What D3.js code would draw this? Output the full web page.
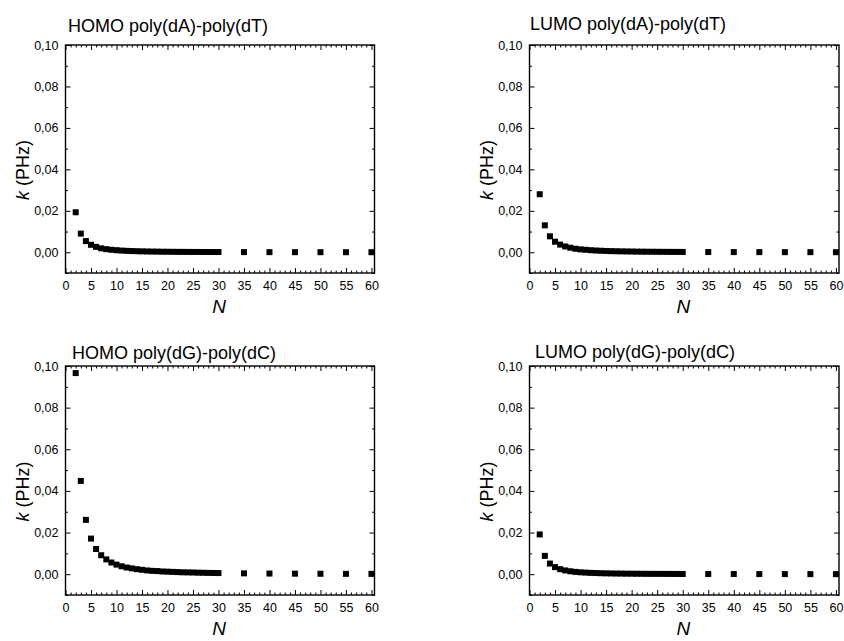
<!DOCTYPE html>
<html>
<head>
<meta charset="utf-8">
<script src="https://cdn.jsdelivr.net/npm/d3@7"></script>
<style>
  html, body { margin: 0; padding: 0; background: #fff; }
  svg { display: block; font-family: "Liberation Sans", Arial, sans-serif; }
</style>
</head>
<body>
<svg id="chart" width="844" height="641"></svg>
<script>
// ---------- DATA ----------
const panelTitles = [
  "HOMO poly(dA)-poly(dT)",
  "LUMO poly(dA)-poly(dT)",
  "HOMO poly(dG)-poly(dC)",
  "LUMO poly(dG)-poly(dC)"
];
const nValues = [2,3,4,5,6,7,8,9,10,11,12,13,14,15,16,17,18,19,20,21,22,23,24,25,26,27,28,29,30,35,40,45,50,55,60];

const homoAT = [0.0193,0.0090,0.0054,0.0036,0.0026,0.0019,0.0015,0.0012,0.0010,0.00082,0.00069,0.00059,0.00051,0.00044,0.00039,0.00034,0.00031,0.00027,0.00025,0.00022,0.00020,0.00019,0.00017,0.00016,0.00015,0.00014,0.00013,0.00012,0.00011,
                0.00008,0.00006,0.00005,0.00004,0.00003,0.00003];
const lumoAT = [0.0280,0.0130,0.0077,0.0051,0.0037,0.0028,0.0022,0.0017,0.0014,0.0012,0.0010,0.00085,0.00073,0.00064,0.00056,0.00050,0.00044,0.00040,0.00036,0.00032,0.00029,0.00027,0.00025,0.00023,0.00021,0.00019,0.00018,0.00017,0.00016,
                0.00011,0.00009,0.00007,0.00006,0.00005,0.00004];
const homoGC = [0.0966,0.0448,0.0261,0.0171,0.0121,0.0091,0.0071,0.0056,0.0046,0.0038,0.0032,0.0028,0.0024,0.0021,0.0018,0.0016,0.0015,0.0013,0.0012,0.0011,0.0010,0.0009,0.00085,0.0008,0.00072,0.00067,0.00062,0.00058,0.00054,
                0.0004,0.0003,0.00024,0.0002,0.00016,0.00014];
const lumoGC = [0.0191,0.0088,0.0051,0.0034,0.0024,0.0018,0.0014,0.0011,0.0009,0.00075,0.00063,0.00054,0.00046,0.00040,0.00035,0.00031,0.00028,0.00025,0.00023,0.00021,0.00019,0.00017,0.00016,0.00015,0.00014,0.00013,0.00012,0.00011,0.0001,
                0.00007,0.00006,0.00004,0.00004,0.00003,0.00003];

const xTickLabels = [0,5,10,15,20,25,30,35,40,45,50,55,60];
const yTickLabels = [0.00,0.02,0.04,0.06,0.08,0.10];
const xDomain = [0, 60.6];
const yDomain = [-0.01, 0.10];

const seriesList = [homoAT, lumoAT, homoGC, lumoGC];

// ---------- LAYOUT ----------
const frames = [
  {l: 65.5, r: 374.5, t: 45, b: 273, tx: 68, ty: 32},
  {l: 529.5, r: 839, t: 45, b: 273, tx: 530, ty: 30},
  {l: 65.5, r: 374.5, t: 366, b: 595, tx: 72, ty: 359},
  {l: 529.5, r: 839, t: 366, b: 595, tx: 535, ty: 358}
];

const svg = d3.select("#chart");
const fmt = d => d3.format(".2f")(d).replace(".", ",");

frames.forEach((f, i) => {
  const x = d3.scaleLinear().domain(xDomain).range([f.l, f.r]);
  const y = d3.scaleLinear().domain(yDomain).range([f.b, f.t]);
  const g = svg.append("g");

  const xMinor = d3.range(0, 61, 1).filter(v => v % 5 !== 0);
  const yMinor = [-0.01, 0.01, 0.03, 0.05, 0.07, 0.09];

  // bottom axis (inward ticks)
  g.append("g").attr("transform", `translate(0,${f.b})`)
    .call(d3.axisBottom(x).tickValues(xTickLabels).tickSize(-5).tickPadding(8).tickFormat(d3.format("d")));
  g.append("g").attr("transform", `translate(0,${f.b})`)
    .call(d3.axisBottom(x).tickValues(xMinor).tickSize(-2.5).tickFormat(""))
    .call(s => s.select(".domain").remove());
  // top axis
  g.append("g").attr("transform", `translate(0,${f.t})`)
    .call(d3.axisTop(x).tickValues(xTickLabels).tickSize(-5).tickFormat(""))
    .call(s => s.select(".domain").remove());
  g.append("g").attr("transform", `translate(0,${f.t})`)
    .call(d3.axisTop(x).tickValues(xMinor).tickSize(-2.5).tickFormat(""))
    .call(s => s.select(".domain").remove());
  // left axis
  g.append("g").attr("transform", `translate(${f.l},0)`)
    .call(d3.axisLeft(y).tickValues(yTickLabels).tickSize(-5).tickPadding(7).tickFormat(fmt));
  g.append("g").attr("transform", `translate(${f.l},0)`)
    .call(d3.axisLeft(y).tickValues(yMinor).tickSize(-2.5).tickFormat(""))
    .call(s => s.select(".domain").remove());
  // right axis
  g.append("g").attr("transform", `translate(${f.r},0)`)
    .call(d3.axisRight(y).tickValues(yTickLabels).tickSize(-5).tickFormat(""))
    .call(s => s.select(".domain").remove());
  g.append("g").attr("transform", `translate(${f.r},0)`)
    .call(d3.axisRight(y).tickValues(yMinor).tickSize(-2.5).tickFormat(""))
    .call(s => s.select(".domain").remove());

  g.selectAll(".domain").remove();
  g.selectAll(".tick line").attr("stroke", "#000").attr("stroke-width", 1);
  g.selectAll(".tick text").attr("font-size", 12.5).attr("fill", "#000")
    .attr("font-family", "'Liberation Sans', Arial, sans-serif");

  // frame
  g.append("rect").attr("x", f.l).attr("y", f.t)
    .attr("width", f.r - f.l).attr("height", f.b - f.t)
    .attr("fill", "none").attr("stroke", "#000").attr("stroke-width", 1.4);

  // data
  const data = nValues.map((n, j) => ({n, k: seriesList[i][j]}));
  const ms = 6;
  g.append("g").selectAll("rect.pt").data(data).join("rect")
    .attr("class", "pt")
    .attr("x", d => x(d.n) - ms / 2)
    .attr("y", d => y(d.k) - ms / 2)
    .attr("width", ms).attr("height", ms)
    .attr("fill", "#000");

  // title
  svg.append("text").attr("x", f.tx).attr("y", f.ty)
    .attr("font-size", 18).attr("fill", "#000").text(panelTitles[i]);

  // x label
  svg.append("text").attr("x", (f.l + f.r) / 2 - 1).attr("y", f.b + 40)
    .attr("text-anchor", "middle").attr("font-size", 19).attr("font-style", "italic")
    .text("N");

  // y label
  const cy = (f.t + f.b) / 2 + 11;
  const yl = svg.append("text")
    .attr("transform", `translate(${f.l - 37},${cy}) rotate(-90)`)
    .attr("text-anchor", "middle").attr("font-size", 18);
  yl.append("tspan").attr("font-style", "italic").text("k");
  yl.append("tspan").text(" (PHz)");
});
</script>
</body>
</html>
